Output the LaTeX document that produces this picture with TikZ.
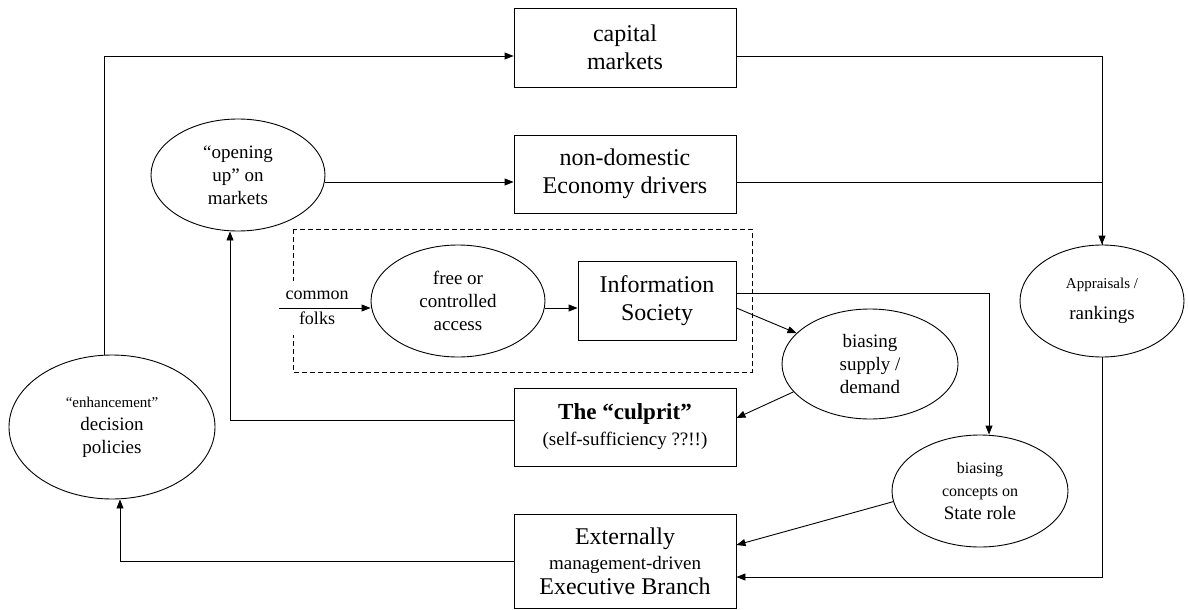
\documentclass[tikz,border=0pt]{standalone}
\usepackage{fontspec}
\setmainfont{Liberation Serif}
\usetikzlibrary{shapes.geometric,arrows.meta}

\begin{document}
\begin{tikzpicture}[x=1pt, y=-1pt, line width=0.9pt,
    >={Triangle[length=9pt,width=7pt]},
    box/.style={draw, minimum width=222pt, align=center, inner sep=2pt,
        font=\fontsize{24}{28}\selectfont},
    oval/.style={draw, ellipse, minimum width=174pt, minimum height=112pt,
        inner sep=0pt, align=center, font=\fontsize{19}{23}\selectfont}]
    \useasboundingbox (0,0) rectangle (1188,610);

    % boxes
    \node[box, minimum height=79pt] (cap) at (625,47.5) {capital\\markets};
    \node[box, minimum height=78pt] (nondom) at (625,174) {non-domestic\\Economy drivers};
    \node[box, minimum width=158pt, minimum height=79pt] (info) at (657,300.5) {Information\\Society};
    \node[box, minimum height=78pt, font=\fontsize{23}{26}\selectfont] (culprit) at (625,427)
        {\textbf{The “culprit”}\\{\fontsize{19}{22}\selectfont (self-sufficiency ??!!)}};
    \node[box, minimum height=94pt, font=\fontsize{24}{25}\selectfont] (exec) at (625,561)
        {Externally\\{\fontsize{19}{21}\selectfont management-driven}\\Executive Branch};

    % ellipses
    \node[oval] (open) at (238,175) {“opening\\up” on\\markets};
    \node[oval] (free) at (458,301) {free or\\controlled\\access};
    \node[oval, minimum width=176pt, minimum height=110pt] (supply) at (870,364) {biasing\\supply /\\demand};
    \node[oval, minimum width=176pt] (concepts) at (980,491)
        {{\fontsize{16}{19}\selectfont biasing}\\{\fontsize{16}{19}\selectfont concepts on}\\State role};
    \node[oval, minimum width=164pt] (apprais) at (1102,301)
        {{\fontsize{15}{18}\selectfont Appraisals /}\\[8pt]rankings};
    \node[oval, minimum width=206pt, minimum height=144pt] (enh) at (112,427)
        {{\fontsize{15}{18}\selectfont “enhancement”}\\decision\\policies};

    % dashed frame
    \draw[line width=0.7pt, dash pattern=on 5pt off 3pt] (293,229) rectangle (752,372);
    \node[fill=white, align=center, inner xsep=6pt, inner ysep=10pt,
        font=\fontsize{18}{25}\selectfont] (folks) at (317,308) {common\\folks};

    % connectors
    \draw[->] ([xshift=-8pt]enh.north) |- ([yshift=-8.5pt]cap.west);
    \draw[->] ([yshift=-7pt]open.east) -- ([yshift=-8pt]nondom.west);
    \draw[->] ([yshift=-8.5pt]cap.east) -| (apprais.north);
    \draw ([yshift=-8pt]nondom.east) -| (apprais.north);
    \draw[->] (folks.west) -- ([yshift=-7pt]free.west);
    \draw[->] ([yshift=-7pt]free.east) -- ([yshift=-7.5pt]info.west);
    \draw[->] ([yshift=-7.5pt]info.east) -- (supply);
    \draw[->] ([yshift=7.5pt]info.east) -| ([xshift=9pt]concepts.north);
    \draw[->] (supply.200) -- ([yshift=9pt]culprit.east);
    \draw[->] (concepts.187) -- ([yshift=16pt]exec.east);
    \draw[->] (apprais.south) |- ([yshift=-16pt]exec.east);
    \draw[->] (exec.west) -| ([xshift=8pt]enh.south);
    \draw[->] ([yshift=7pt]culprit.west) -| ([xshift=-8pt]open.south);
\end{tikzpicture}
\end{document}
